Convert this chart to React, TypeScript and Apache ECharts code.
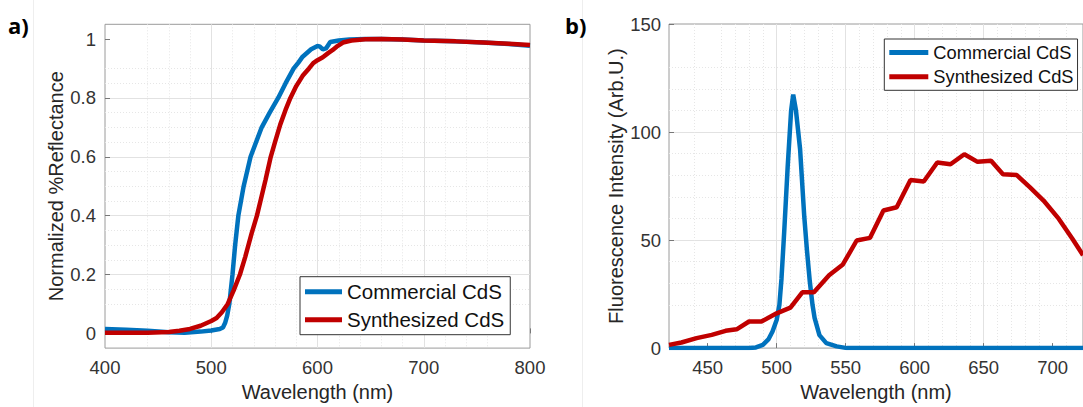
import React, { useEffect, useRef } from "react";
import * as echarts from "echarts";

// ---------- Panel a: normalized reflectance ----------
const A_COMM_X = [400, 420, 440, 460, 475, 490, 500, 508, 511, 513, 515, 517, 518.5, 520, 522.5, 525.5, 530.5, 537, 547.5, 555, 563, 570, 577.6, 582, 586, 594, 600, 602, 605, 608, 612, 620, 630, 645, 660, 680, 700, 730, 756, 780, 800];
const A_COMM_Y = [0.015, 0.012, 0.009, 0.004, 0.002, 0.006, 0.01, 0.015, 0.02, 0.035, 0.06, 0.1, 0.15, 0.2, 0.3, 0.4, 0.5, 0.6, 0.7, 0.75, 0.8, 0.85, 0.9, 0.92, 0.94, 0.965, 0.976, 0.975, 0.965, 0.968, 0.99, 0.995, 0.998, 1.0, 1.0, 0.998, 0.995, 0.992, 0.988, 0.983, 0.977];
const A_SYN_X = [400, 440, 460, 470, 480, 490, 500, 505, 510, 515.5, 521, 527, 532, 538, 543, 547, 551, 556, 560, 565, 570, 574.5, 580, 586, 592, 596, 600, 605, 610, 614, 618, 624, 632, 645, 660, 680, 700, 730, 756, 780, 800];
const A_SYN_Y = [0.002, 0.002, 0.005, 0.009, 0.015, 0.026, 0.042, 0.052, 0.072, 0.1, 0.145, 0.2, 0.26, 0.34, 0.4, 0.46, 0.52, 0.6, 0.65, 0.71, 0.76, 0.8, 0.84, 0.875, 0.9, 0.918, 0.928, 0.938, 0.952, 0.962, 0.974, 0.988, 0.995, 0.999, 1.0, 0.998, 0.995, 0.992, 0.988, 0.984, 0.98];
const A_X_TICKS = [400, 500, 600, 700, 800];
const A_Y_TICKS = [0, 0.2, 0.4, 0.6, 0.8, 1];

// ---------- Panel b: fluorescence ----------
const B_COMM_X = [422, 480, 485, 490, 494, 497, 500, 502, 503.5, 505.5, 508, 510.5, 512, 514, 517, 520, 522, 524, 526, 527.5, 531, 536, 543.5, 551, 722];
const B_COMM_Y = [0, 0, 0.3, 1.5, 4, 7.7, 13, 20, 32, 54, 84, 110, 117.3, 110, 92, 61, 45, 31, 20, 14, 6, 2.3, 0.8, 0, 0];
const B_SYN_X = [422, 431, 442, 453, 463, 471, 480, 489, 500, 510, 518.6, 527, 538, 548, 558, 567.6, 577.4, 587, 597, 606.6, 616.4, 626, 636, 645.6, 655.4, 664, 674, 683.6, 693.4, 704.5, 714.3, 722];
const B_SYN_Y = [1.5, 2.6, 4.6, 6.1, 8, 8.7, 12.3, 12.3, 16.1, 18.7, 25.8, 25.8, 33.7, 38.7, 49.8, 51, 63.7, 65.2, 77.8, 77.1, 85.9, 85.1, 89.7, 86.2, 86.7, 80.5, 80.1, 74.4, 68.3, 59.8, 50.6, 43];
const B_X_TICKS = [450, 500, 550, 600, 650, 700];
const B_Y_TICKS = [0, 50, 100, 150];

const SERIES_NAMES = ["Commercial CdS", "Synthesized CdS"];
const BLUE = "#0072BD";
const RED = "#C00000";
const FONT = '"Liberation Sans", Arial, Helvetica, sans-serif';

const pairs = (xs: number[], ys: number[]) => xs.map((x, i) => [x, ys[i]]);
const range = (start: number, end: number, step: number) => {
  const out: number[] = [];
  const n = Math.round((end - start) / step);
  for (let i = 0; i <= n; i++) out.push(Math.round((start + i * step) * 1000) / 1000);
  return out;
};
const without = (arr: number[], ex: number[]) => arr.filter((v) => !ex.some((e) => Math.abs(e - v) < 1e-6));

const A_X_MINOR = without(range(420, 780, 20), A_X_TICKS);
const A_Y_MINOR = without(range(0.05, 1.0, 0.05), A_Y_TICKS);
const B_X_MINOR = without(range(430, 720, 10), B_X_TICKS);
const B_Y_MINOR = without(range(10, 140, 10), B_Y_TICKS);

const MAJOR = { show: true, showMinLine: false, showMaxLine: false, lineStyle: { color: "#e2e2e2", width: 1, type: "solid" } };
const MINOR = { show: true, showMinLine: false, showMaxLine: false, lineStyle: { color: "#e6e6e6", width: 1, type: [1, 2] } };

function mainAxis(gridIndex: number, min: number, max: number, ticks: number[], extra: any) {
  return {
    type: "value",
    gridIndex,
    min,
    max,
    axisLine: { show: false },
    axisTick: { show: true, inside: true, length: 5, customValues: ticks, lineStyle: { color: "#777" } },
    axisLabel: { show: true, customValues: ticks, fontSize: 18.5, color: "#333", fontFamily: FONT },
    splitLine: MAJOR,
    nameLocation: "middle",
    nameTextStyle: { fontSize: 20, color: "#262626", fontFamily: FONT },
    ...extra,
  };
}
function minorAxis(gridIndex: number, min: number, max: number, ticks: number[]) {
  return {
    type: "value",
    gridIndex,
    min,
    max,
    axisLine: { show: false },
    axisTick: { show: false, customValues: ticks },
    axisLabel: { show: false },
    splitLine: MINOR,
  };
}

export default function App() {
  const ref = useRef<HTMLDivElement>(null);
  useEffect(() => {
    if (!ref.current) return;
    const chart = echarts.init(ref.current, undefined, { renderer: "svg" });
    const legendBase = {
      orient: "vertical",
      icon: "rect",
      borderColor: "#333",
      borderWidth: 1,
      backgroundColor: "#fff",
      data: SERIES_NAMES,
      selectedMode: false,
    };
    chart.setOption({
      animation: false,
      textStyle: { fontFamily: FONT },
      grid: [
        { left: 105, top: 24.3, width: 425, height: 326.4, show: true, borderColor: "#9a9a9a", borderWidth: 1, backgroundColor: "#fff" },
        { left: 669, top: 24, width: 425, height: 326, show: true, borderColor: "#9a9a9a", borderWidth: 1, backgroundColor: "#fff" },
      ],
      xAxis: [
        mainAxis(0, 400, 800, A_X_TICKS, { name: "Wavelength (nm)", nameGap: 32, axisLabel: { customValues: A_X_TICKS, fontSize: 18.5, color: "#333", margin: 10, fontFamily: FONT } }),
        minorAxis(0, 400, 800, A_X_MINOR),
        mainAxis(1, 422, 722, B_X_TICKS, { name: "Wavelength (nm)", nameGap: 32, axisLabel: { customValues: B_X_TICKS, fontSize: 18.5, color: "#333", margin: 10, fontFamily: FONT } }),
        minorAxis(1, 422, 722, B_X_MINOR),
      ],
      yAxis: [
        mainAxis(0, -0.05, 1.05, A_Y_TICKS, { name: "Normalized %Reflectance", nameGap: 37, axisLabel: { customValues: A_Y_TICKS, fontSize: 18.5, color: "#333", margin: 9, fontFamily: FONT } }),
        minorAxis(0, -0.05, 1.05, A_Y_MINOR),
        mainAxis(1, 0, 150, B_Y_TICKS, { name: "Fluorescence Intensity (Arb.U.)", nameGap: 43, axisLabel: { customValues: B_Y_TICKS, fontSize: 18.5, color: "#333", margin: 8, fontFamily: FONT } }),
        minorAxis(1, 0, 150, B_Y_MINOR),
      ],
      legend: [
        {
          ...legendBase,
          left: 300,
          top: 276.7,
          itemWidth: 37,
          itemHeight: 5,
          itemGap: 4,
          padding: [3, 6, 3, 5],
          textStyle: { fontSize: 20.5, lineHeight: 24, color: "#111", fontFamily: FONT },
        },
        {
          ...legendBase,
          left: 884.3,
          top: 39,
          itemWidth: 39,
          itemHeight: 5,
          itemGap: 3.3,
          padding: [3, 4, 3, 5],
          textStyle: { fontSize: 18.3, lineHeight: 21, color: "#111", fontFamily: FONT },
        },
      ],
      graphic: [
        { type: "line", shape: { x1: 33.5, y1: 0, x2: 33.5, y2: 407 }, style: { stroke: "#eeeeee", lineWidth: 1 }, silent: true },
        { type: "line", shape: { x1: 582.5, y1: 0, x2: 582.5, y2: 407 }, style: { stroke: "#eeeeee", lineWidth: 1 }, silent: true },
        { type: "text", x: 8, y: 25, style: { text: "a)", fontSize: 22, fontWeight: "bold", fontFamily: '"Open Sans", Arial, sans-serif', fill: "#000", verticalAlign: "middle" } },
        { type: "text", x: 565, y: 25, style: { text: "b)", fontSize: 22, fontWeight: "bold", fontFamily: '"Open Sans", Arial, sans-serif', fill: "#000", verticalAlign: "middle" } },
      ],
      series: [
        { name: SERIES_NAMES[0], type: "line", xAxisIndex: 0, yAxisIndex: 0, data: pairs(A_COMM_X, A_COMM_Y), showSymbol: false, symbol: "none", color: BLUE, lineStyle: { width: 4.5, color: BLUE } },
        { name: SERIES_NAMES[1], type: "line", xAxisIndex: 0, yAxisIndex: 0, data: pairs(A_SYN_X, A_SYN_Y), showSymbol: false, symbol: "none", color: RED, lineStyle: { width: 4.5, color: RED } },
        { name: SERIES_NAMES[0], type: "line", xAxisIndex: 2, yAxisIndex: 2, data: pairs(B_COMM_X, B_COMM_Y), showSymbol: false, symbol: "none", color: BLUE, lineStyle: { width: 4.5, color: BLUE } },
        { name: SERIES_NAMES[1], type: "line", xAxisIndex: 2, yAxisIndex: 2, data: pairs(B_SYN_X, B_SYN_Y), showSymbol: false, symbol: "none", color: RED, lineStyle: { width: 4.5, color: RED } },
      ],
    });
    return () => chart.dispose();
  }, []);
  return <div ref={ref} style={{ position: "absolute", left: 0, top: 0, width: 1083, height: 407, background: "#fff" }} />;
}
